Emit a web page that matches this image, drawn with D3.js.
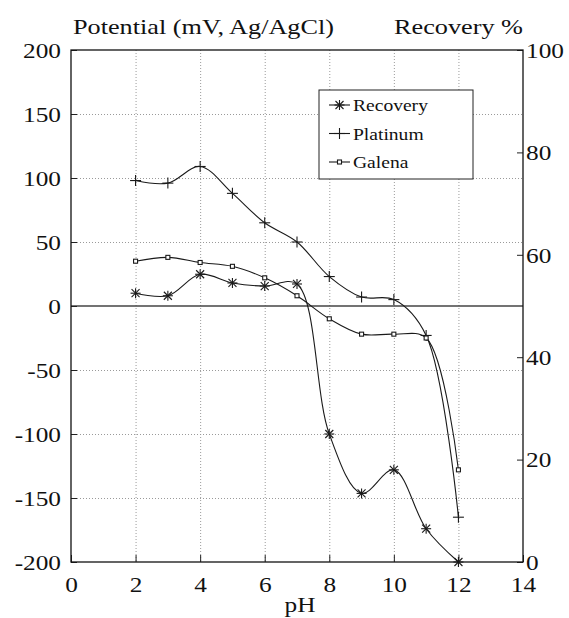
<!DOCTYPE html>
<html>
<head>
<meta charset="utf-8">
<script src="https://cdn.jsdelivr.net/npm/d3@7"></script>
<style>
  html, body { margin: 0; padding: 0; background: #fff; }
  svg { display: block; }
</style>
</head>
<body>
<svg id="chart" width="569" height="618"></svg>
<script>
// pH values where the measurements were taken
const pH = [2, 3, 4, 5, 6, 7, 8, 9, 10, 11, 12];
// Electrode potentials, mV vs Ag/AgCl (left axis)
const platinum = [98, 96, 109, 88, 65, 50, 23, 7, 5, -23, -165];
const galena = [35, 38, 34, 31, 22, 8, -10, -22, -22, -25, -128];
// Flotation recovery, % (right axis)
const recovery = [52.5, 52, 56.2, 54.5, 53.9, 54.3, 25, 13.4, 18, 6.5, 0];

const xTicks = [0, 2, 4, 6, 8, 10, 12, 14];
const leftTicks = [-200, -150, -100, -50, 0, 50, 100, 150, 200];
const rightTicks = [0, 20, 40, 60, 80, 100];
const gridX = [2, 4, 6, 8, 10, 12];
const gridY = [-150, -100, -50, 50, 100, 150];

const FONT = "'Liberation Serif', 'Times New Roman', Times, serif";
const svg = d3.select("#chart").attr("font-family", FONT);
const L = 71, R = 523, T = 50, B = 562;

const x = d3.scaleLinear().domain([0, 14]).range([L, R]);
const yL = d3.scaleLinear().domain([-200, 200]).range([B, T]);
const yR = d3.scaleLinear().domain([0, 100]).range([B, T]);

// plain integers with an ASCII hyphen for negatives
const fmt = d => String(d);

// dotted grid
const grid = svg.append("g").attr("stroke", "#9a9a9a").attr("stroke-width", 1).attr("stroke-dasharray", "1,2");
grid.selectAll("line.gx").data(gridX).join("line")
  .attr("x1", d => x(d) + 0.5).attr("x2", d => x(d) + 0.5).attr("y1", T).attr("y2", B);
grid.selectAll("line.gy").data(gridY).join("line")
  .attr("x1", L).attr("x2", R).attr("y1", d => Math.round(yL(d)) + 0.5).attr("y2", d => Math.round(yL(d)) + 0.5);

// zero potential line
svg.append("line").attr("x1", L).attr("x2", R)
  .attr("y1", yL(0)).attr("y2", yL(0))
  .attr("stroke", "#444").attr("stroke-width", 1.4);

// axes (inward ticks)
const fs = 22;
const gl = svg.append("g").attr("transform", `translate(${L},0)`)
  .call(d3.axisLeft(yL).tickValues(leftTicks).tickSizeInner(-6).tickSizeOuter(0).tickPadding(10).tickFormat(fmt));
const gr = svg.append("g").attr("transform", `translate(${R},0)`)
  .call(d3.axisRight(yR).tickValues(rightTicks).tickSizeInner(-6).tickSizeOuter(0).tickPadding(3).tickFormat(fmt));
const gb = svg.append("g").attr("transform", `translate(0,${B})`)
  .call(d3.axisBottom(x).tickValues(xTicks).tickSizeInner(-7).tickSizeOuter(0).tickPadding(0).tickFormat(fmt));
[gl, gr, gb].forEach(g => {
  g.attr("font-family", FONT).attr("font-size", fs);
  g.select(".domain").remove();
  g.selectAll(".tick line").attr("stroke", "#222").attr("stroke-width", 1);
  g.selectAll(".tick text").attr("font-size", fs).attr("font-family", FONT).attr("fill", "#111").classed("wide", true);
});
gl.selectAll(".tick text").attr("dy", "0.33em");
gr.selectAll(".tick text").attr("dy", "0.33em");
gb.selectAll(".tick text").attr("dy", null).attr("y", 30);

// frame
svg.append("rect").attr("x", L).attr("y", T).attr("width", R - L).attr("height", B - T)
  .attr("fill", "none").attr("stroke", "#111").attr("stroke-width", 1.3);

// titles
svg.append("text").attr("x", 73).attr("y", 34).attr("font-size", 21).attr("fill", "#111")
  .attr("textLength", 261).attr("lengthAdjust", "spacingAndGlyphs")
  .text("Potential (mV, Ag/AgCl)");
svg.append("text").attr("x", 394).attr("y", 34).attr("font-size", 21).attr("fill", "#111")
  .attr("textLength", 129).attr("lengthAdjust", "spacingAndGlyphs")
  .text("Recovery %");
svg.append("text").attr("x", 300).attr("y", 612).attr("font-size", 22).attr("fill", "#111")
  .attr("text-anchor", "middle").classed("wide", true).text("pH");

// series
const line = (ys) => d3.line().curve(d3.curveCatmullRom.alpha(0.5)).x((d, i) => x(pH[i])).y(d => ys(d));
const series = [
  { name: "Recovery", values: recovery, scale: yR, marker: "star" },
  { name: "Platinum", values: platinum, scale: yL, marker: "plus" },
  { name: "Galena", values: galena, scale: yL, marker: "square" }
];

function drawMarker(g, type, cx, cy) {
  if (type === "plus" || type === "star") {
    const a = type === "plus" ? 5.5 : 5;
    g.append("line").attr("x1", cx - a).attr("x2", cx + a).attr("y1", cy).attr("y2", cy);
    g.append("line").attr("x1", cx).attr("x2", cx).attr("y1", cy - a).attr("y2", cy + a);
    if (type === "star") {
      const b = 4;
      g.append("line").attr("x1", cx - b).attr("x2", cx + b).attr("y1", cy - b).attr("y2", cy + b);
      g.append("line").attr("x1", cx - b).attr("x2", cx + b).attr("y1", cy + b).attr("y2", cy - b);
    }
  } else {
    g.append("rect").attr("x", cx - 2).attr("y", cy - 2).attr("width", 4).attr("height", 4)
      .attr("fill", "#fff");
  }
}

series.forEach(s => {
  const g = svg.append("g").attr("stroke", "#1a1a1a").attr("fill", "none").attr("stroke-width", 1.1);
  g.append("path").attr("d", line(s.scale)(s.values));
  s.values.forEach((v, i) => drawMarker(g, s.marker, x(pH[i]), s.scale(v)));
});

// legend
const lg = svg.append("g");
lg.append("rect").attr("x", 319).attr("y", 90).attr("width", 154).attr("height", 89)
  .attr("fill", "#fff").attr("stroke", "#222").attr("stroke-width", 1);
series.forEach((s, i) => {
  const cy = 105 + i * 28.5;
  const g = lg.append("g").attr("stroke", "#1a1a1a").attr("fill", "none").attr("stroke-width", 1.1);
  g.append("line").attr("x1", 329).attr("x2", 350).attr("y1", cy).attr("y2", cy);
  drawMarker(g, s.marker, 339.5, cy);
  lg.append("text").attr("x", 353).attr("y", cy + 6).attr("font-size", 17).attr("fill", "#111")
    .classed("wide", true).text(s.name);
});

// Times-like faces render a little narrow here; widen labels slightly
svg.selectAll("text.wide").each(function () {
  const w = this.getComputedTextLength();
  d3.select(this).attr("textLength", w * 1.15).attr("lengthAdjust", "spacingAndGlyphs");
});
</script>
</body>
</html>
